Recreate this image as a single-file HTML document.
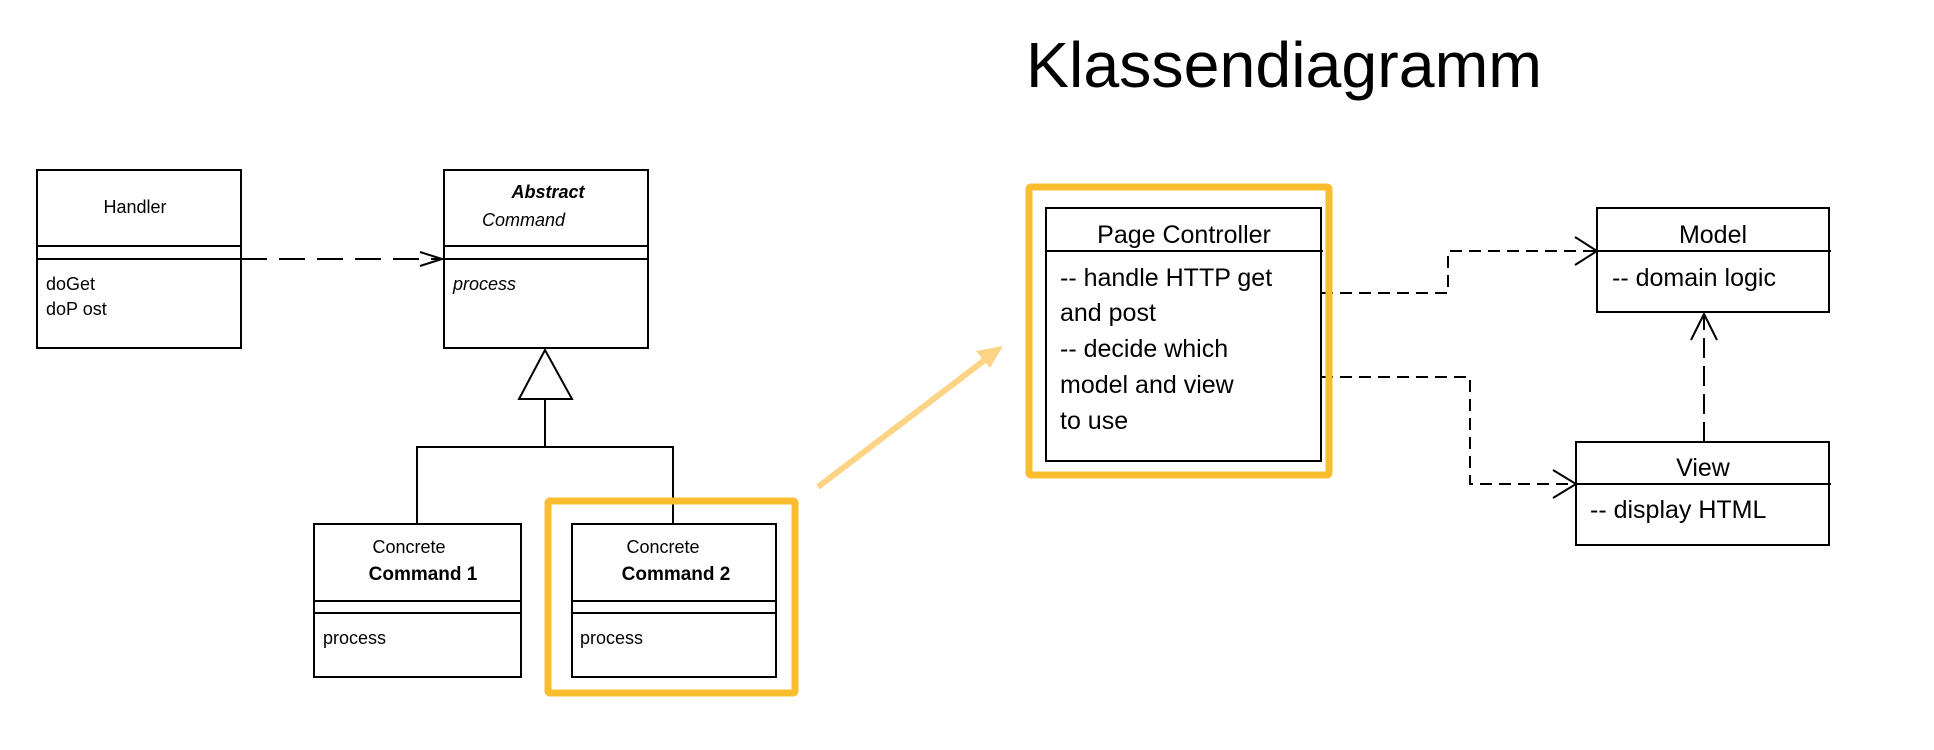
<!DOCTYPE html>
<html><head><meta charset="utf-8"><style>
html,body{margin:0;padding:0;background:#fff;}
svg{display:block;}
text{font-family:"Liberation Sans",sans-serif;fill:#000;}
</style></head><body>
<svg width="1934" height="750" viewBox="0 0 1934 750" xmlns="http://www.w3.org/2000/svg">
<text x="1026" y="87" font-size="64" textLength="516" lengthAdjust="spacingAndGlyphs">Klassendiagramm</text>

<g fill="none" stroke="#000" stroke-width="2">
<rect x="37" y="170" width="204" height="178"/>
<line x1="37" y1="246" x2="241" y2="246"/><line x1="37" y1="259" x2="241" y2="259"/>
<rect x="444" y="170" width="204" height="178"/>
<line x1="444" y1="246" x2="648" y2="246"/><line x1="444" y1="259" x2="648" y2="259"/>
<line x1="241" y1="259" x2="442" y2="259" stroke-dasharray="26,12"/>
<polyline points="420,252 442,259 420,266"/>
<polygon points="545,350 519,399 572,399"/>
<line x1="545" y1="399" x2="545" y2="447"/>
<polyline points="417,524 417,447 673,447 673,524"/>
<rect x="314" y="524" width="207" height="153"/>
<line x1="314" y1="601" x2="521" y2="601"/><line x1="314" y1="613" x2="521" y2="613"/>
<rect x="572" y="524" width="204" height="153"/>
<line x1="572" y1="601" x2="776" y2="601"/><line x1="572" y1="613" x2="776" y2="613"/>
<rect x="1046" y="208" width="275" height="253"/>
<line x1="1046" y1="251" x2="1323" y2="251"/>
<rect x="1597" y="208" width="232" height="104"/>
<line x1="1597" y1="251" x2="1831" y2="251"/>
<rect x="1576" y="442" width="253" height="103"/>
<line x1="1576" y1="484" x2="1831" y2="484"/>
<polyline points="1321,293 1448,293 1448,251 1595,251" stroke-dasharray="12,7"/>
<polyline points="1575,237 1597,251 1575,265"/>
<polyline points="1321,377 1470,377 1470,484 1574,484" stroke-dasharray="12,7"/>
<polyline points="1553,470 1576,484 1553,498"/>
<line x1="1704" y1="442" x2="1704" y2="314" stroke-dasharray="20,8"/>
<polyline points="1691,340 1704,314 1717,340"/>
</g>

<g fill="none" stroke="#fbbd30" stroke-width="7">
<rect x="548" y="501" width="247" height="192" rx="2"/>
<rect x="1029" y="187" width="300" height="288" rx="2"/>
</g>
<line x1="818" y1="487" x2="990" y2="356" stroke="#fdd385" stroke-width="6"/>
<polygon points="1003,346 976,351 990,368" fill="#fdd385"/>

<g font-size="18">
<text x="135" y="213" text-anchor="middle">Handler</text>
<text x="46" y="290">doGet</text>
<text x="46" y="315">doP ost</text>
<text x="548" y="198" text-anchor="middle" font-weight="bold" font-style="italic">Abstract</text>
<text x="482" y="226" font-style="italic">Command</text>
<text x="453" y="290" font-style="italic">process</text>
<text x="409" y="553" text-anchor="middle">Concrete</text>
<text x="423" y="580" text-anchor="middle" font-weight="bold" font-size="19">Command 1</text>
<text x="323" y="644">process</text>
<text x="663" y="553" text-anchor="middle">Concrete</text>
<text x="676" y="580" text-anchor="middle" font-weight="bold" font-size="19">Command 2</text>
<text x="580" y="644">process</text>
</g>
<g font-size="25">
<text x="1184" y="243" text-anchor="middle">Page Controller</text>
<text x="1060" y="286">-- handle HTTP get</text>
<text x="1060" y="321">and post</text>
<text x="1060" y="357">-- decide which</text>
<text x="1060" y="393">model and view</text>
<text x="1060" y="429">to use</text>
<text x="1713" y="243" text-anchor="middle">Model</text>
<text x="1612" y="286">-- domain logic</text>
<text x="1703" y="476" text-anchor="middle">View</text>
<text x="1590" y="518">-- display HTML</text>
</g>
</svg>
</body></html>
